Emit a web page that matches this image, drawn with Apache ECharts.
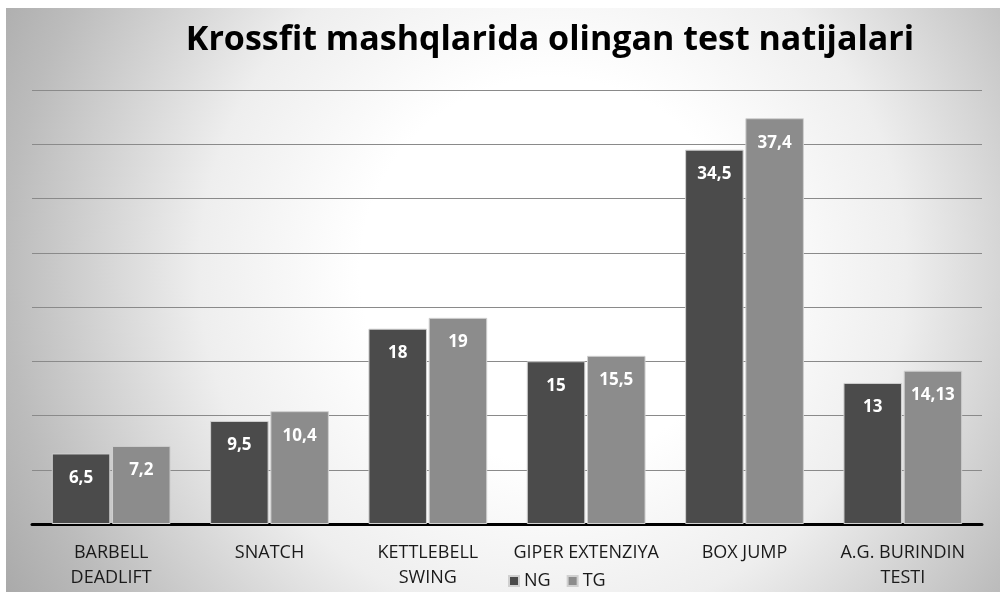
<!DOCTYPE html>
<html>
<head>
<meta charset="utf-8">
<script src="https://cdn.jsdelivr.net/npm/echarts@6/dist/echarts.min.js"></script>
<style>html,body{margin:0;padding:0;background:#fff;}#c{width:1004px;height:599px;}</style>
</head>
<body>
<div id="c"></div>
<script>
const categories = ['BARBELL\nDEADLIFT', 'SNATCH', 'KETTLEBELL\nSWING', 'GIPER EXTENZIYA', 'BOX JUMP', 'A.G. BURINDIN\nTESTI'];
const ngValues = [6.5, 9.5, 18, 15, 34.5, 13];
const tgValues = [7.2, 10.4, 19, 15.5, 37.4, 14.13];
const seriesNames = ['NG', 'TG'];
const titleText = 'Krossfit mashqlarida olingan test natijalari';

const chart = echarts.init(document.getElementById('c'));
const fmt = p => String(p.value).replace('.', ',');
const labelCfg = {
  show: true, position: 'insideTop', distance: 16,
  color: '#ffffff', fontSize: 17, fontWeight: 'bold', fontFamily: 'Open Sans',
  formatter: fmt
};
chart.setOption({
  backgroundColor: '#ffffff',
  animation: false,
  graphic: [{
    type: 'rect', z: -10, silent: true,
    shape: {x: 6, y: 8, width: 994, height: 584},
    style: {
      fill: new echarts.graphic.RadialGradient(0.55, 0.45, 1.1, [
        {offset: 0, color: '#ffffff'},
        {offset: 0.3, color: '#ffffff'},
        {offset: 0.55, color: '#eeeeee'},
        {offset: 0.85, color: '#bcbcbc'},
        {offset: 1, color: '#a8a8a8'}
      ])
    }
  }],
  title: {
    text: titleText, left: 545, textAlign: 'center', top: 18,
    textStyle: {fontFamily: 'Open Sans', fontWeight: 'bold', fontSize: 34, color: '#000'}
  },
  legend: {
    data: seriesNames, left: 503, top: 567, itemWidth: 10, itemHeight: 10, itemGap: 16,
    icon: 'rect',
    textStyle: {fontFamily: 'Open Sans', fontSize: 18, color: '#1a1a1a'}
  },
  grid: {left: 32, right: 22, top: 90, bottom: 75},
  xAxis: {
    type: 'category', data: categories,
    axisLine: {lineStyle: {color: '#000', width: 3}},
    axisTick: {show: false},
    axisLabel: {interval: 0, hideOverlap: false, fontFamily: 'Open Sans', fontSize: 18, color: '#1a1a1a', lineHeight: 25, margin: 16}
  },
  yAxis: {
    type: 'value', min: 0, max: 40, interval: 5,
    axisLabel: {show: false}, axisLine: {show: false}, axisTick: {show: false},
    splitLine: {lineStyle: {color: '#8a8a8a', width: 1}}
  },
  series: [
    {name: 'NG', type: 'bar', data: ngValues, barGap: '3%', barCategoryGap: '25%',
     itemStyle: {color: '#4b4b4b', borderColor: '#d0d0d0', borderWidth: 1}, label: labelCfg},
    {name: 'TG', type: 'bar', data: tgValues,
     itemStyle: {color: '#8c8c8c', borderColor: '#d0d0d0', borderWidth: 1}, label: labelCfg}
  ]
});
</script>
</body>
</html>
